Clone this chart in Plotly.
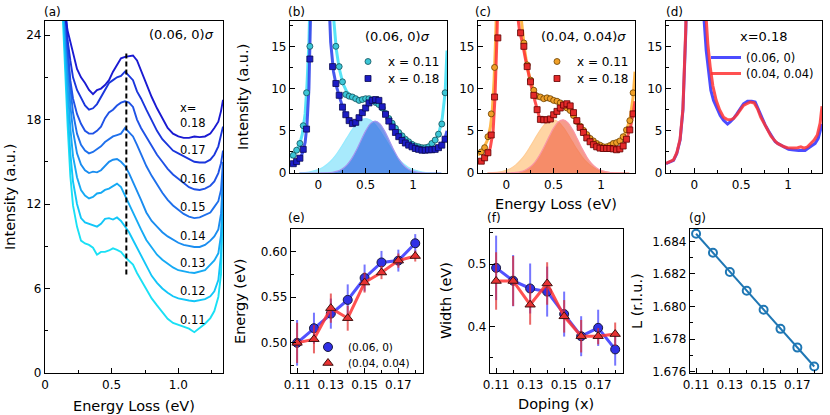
import plotly.graph_objects as go

W, H = 830, 415
FONT = "DejaVu Sans"

# ---------------- data ----------------
dopings = [0.11, 0.12, 0.13, 0.14, 0.15, 0.16, 0.17, 0.18]
dop_labels = ["0.11", "0.12", "0.13", "0.14", "0.15", "0.16", "0.17", "0.18"]

# (a) offset spectra at (0.06, 0) sigma
a_energy = [0.13, 0.15, 0.17, 0.19, 0.21, 0.24, 0.27, 0.30, 0.33, 0.36, 0.39, 0.42, 0.45,
            0.48, 0.51, 0.54, 0.57, 0.60, 0.63, 0.66, 0.69, 0.72, 0.76, 0.80, 0.84, 0.88,
            0.92, 0.96, 1.00, 1.04, 1.08, 1.12, 1.16, 1.20, 1.24, 1.27, 1.30, 1.32, 1.335]
a_I_011 = [26.0, 21.5, 17.5, 14.0, 11.9, 10.4, 9.4, 9.2, 9.1, 8.9, 8.4, 8.6, 8.6, 8.7, 8.85,
           8.75, 8.6, 8.25, 8.0, 7.7, 7.1, 6.6, 5.9, 5.3, 4.8, 4.3, 3.85, 3.55, 3.4, 3.3,
           3.15, 2.9, 3.2, 3.5, 3.9, 4.4, 5.4, 7.0, 13.0]
a_I_012 = [27.0, 22.5, 18.7, 15.6, 13.6, 12.0, 11.0, 10.7, 10.6, 10.5, 10.4, 10.6, 10.95, 11.0,
           10.9, 11.05, 10.8, 10.4, 10.0, 9.45, 8.9, 8.3, 7.55, 6.9, 6.4, 6.0, 5.7, 5.45, 5.3,
           5.2, 5.15, 5.1, 5.15, 5.25, 5.45, 5.8, 6.6, 8.4, 13.0]
a_I_013 = [28.0, 24.0, 20.3, 17.4, 15.4, 13.9, 13.0, 12.6, 12.4, 12.5, 12.75, 12.8, 13.0, 13.1,
           13.3, 13.45, 13.2, 12.6, 12.0, 11.4, 10.7, 10.2, 9.45, 8.9, 8.4, 8.05, 7.75, 7.5, 7.3,
           7.2, 7.15, 7.1, 7.2, 7.3, 7.7, 8.0, 8.5, 9.8, 13.5]
a_I_014 = [28.5, 25.0, 21.8, 19.0, 17.2, 15.6, 14.8, 14.4, 14.2, 14.3, 14.25, 14.4, 14.7, 15.0,
           15.15, 15.2, 15.0, 14.7, 14.2, 13.6, 12.9, 12.3, 11.4, 10.8, 10.4, 10.0, 9.7, 9.45,
           9.25, 9.1, 9.0, 8.95, 8.95, 9.1, 9.4, 9.7, 10.2, 11.3, 14.0]
a_I_015 = [29.0, 25.5, 22.8, 20.3, 18.5, 17.0, 16.2, 15.8, 15.6, 15.7, 15.9, 16.1, 16.4, 16.6,
           16.8, 16.9, 17.0, 17.4, 17.1, 16.8, 16.2, 15.5, 14.7, 14.0, 13.4, 12.8, 12.3, 11.9,
           11.6, 11.3, 11.1, 11.0, 11.05, 11.2, 11.4, 11.8, 12.2, 13.0, 15.0]
a_I_016 = [29.5, 26.0, 23.0, 20.8, 19.5, 18.4, 17.7, 17.2, 17.0, 17.0, 17.2, 17.5, 18.1, 18.5,
           18.7, 19.0, 19.2, 19.3, 19.2, 18.9, 18.0, 17.4, 16.8, 16.1, 15.5, 15.0, 14.5, 14.1,
           13.8, 13.5, 13.2, 13.05, 13.0, 13.1, 13.3, 13.6, 14.2, 14.9, 15.8]
a_I_017 = [30.0, 26.5, 23.6, 22.2, 21.0, 20.1, 19.5, 19.0, 18.7, 18.8, 19.1, 19.6, 20.1, 20.6,
           20.8, 21.0, 21.1, 21.4, 21.1, 20.8, 20.0, 19.5, 18.7, 17.9, 17.2, 16.6, 16.2, 15.8,
           15.6, 15.4, 15.2, 15.0, 14.95, 14.95, 15.15, 15.5, 16.1, 16.8, 17.5]
a_I_018 = [30.0, 25.4, 24.3, 23.5, 22.7, 21.6, 21.0, 20.6, 20.1, 19.8, 20.1, 20.2, 20.45, 20.8,
           21.4, 21.9, 22.35, 22.45, 22.5, 22.55, 22.2, 21.5, 20.45, 19.6, 18.8, 18.1, 17.4,
           17.0, 16.8, 16.7, 16.7, 16.8, 16.75, 16.8, 17.0, 17.4, 17.85, 18.6, 19.4]
a_peak_E = 0.61
a_peak_span = [7.0, 22.9]

# (b), (c) measured spectra
bc_energy = [-0.265, -0.23, -0.195, -0.16, -0.125, -0.09,
             0.15, 0.185, 0.22, 0.255, 0.29, 0.325, 0.36, 0.395, 0.43, 0.465, 0.50, 0.535,
             0.57, 0.605, 0.64, 0.675, 0.71, 0.745, 0.78, 0.815, 0.85, 0.885, 0.92, 0.955,
             0.99, 1.025, 1.06, 1.095, 1.13, 1.165, 1.20, 1.235, 1.27, 1.305, 1.34]
b_I_011 = [2.1, 2.7, 3.5, 5.6, 9.5, 15.0,
           18.6, 15.0, 12.6, 10.8, 9.3, 9.1, 9.0, 8.8, 8.6, 8.7, 8.8, 8.8, 8.6, 8.35, 8.1,
           7.7, 7.05, 6.45, 5.9, 5.3, 4.8, 4.4, 4.0, 3.7, 3.4, 3.2, 3.1, 3.0, 3.0, 3.1, 3.5,
           3.9, 4.6, 5.8, 9.5]
b_I_018 = [1.1, 1.35, 1.75, 2.8, 5.2, 13.5,
           12.6, 10.6, 9.2, 7.8, 6.9, 6.2, 5.85, 6.0, 6.55, 7.15, 7.7, 8.3, 8.6, 8.7, 8.6,
           7.85, 6.95, 6.15, 5.45, 4.8, 4.3, 3.85, 3.55, 3.3, 3.1, 2.9, 2.8, 2.7, 2.7, 2.75,
           2.75, 2.8, 3.0, 3.3, 4.0]
c_I_011 = [2.5, 3.0, 4.3, 7.0, 12.5, 19.0,
           18.5, 15.4, 12.8, 11.0, 9.8, 9.1, 9.0, 8.8, 8.9, 8.8, 8.6, 8.5, 8.3, 8.05, 7.7,
           7.4, 6.8, 6.1, 5.55, 5.05, 4.55, 4.1, 3.8, 3.5, 3.3, 3.1, 3.1, 3.25, 3.5, 3.6, 3.8,
           4.3, 5.1, 6.2, 9.5]
c_I_018 = [1.4, 1.8, 2.4, 4.5, 9.0, 16.0,
           16.6, 15.0, 12.6, 10.8, 9.2, 7.5, 6.35, 6.3, 6.3, 6.4, 6.9, 7.3, 7.7, 8.05, 8.2,
           7.95, 7.15, 6.2, 5.4, 4.8, 4.15, 3.7, 3.35, 3.1, 2.95, 2.9, 2.9, 2.9, 2.85, 2.75,
           2.85, 3.2, 4.0, 5.1, 7.0]

# (b) fits
b_fitE = [-0.30, -0.25, -0.20, -0.17, -0.14, -0.12, -0.10, -0.085, -0.07, 0.0, 0.10, 0.13,
          0.16, 0.19, 0.22, 0.26, 0.30, 0.35, 0.40, 0.45, 0.50, 0.55, 0.60, 0.65, 0.70, 0.75,
          0.80, 0.85, 0.90, 0.95, 1.00, 1.05, 1.10, 1.15, 1.20, 1.25, 1.28, 1.31, 1.34, 1.36]
b_fit_011 = [1.8, 2.4, 3.3, 4.6, 7.0, 10.5, 15.5, 21.0, 27.0, 60.0, 45.0, 26.0, 18.5, 14.6,
             12.4, 10.6, 9.6, 9.1, 8.85, 8.75, 8.8, 8.75, 8.45, 7.9, 7.2, 6.4, 5.6, 4.85, 4.25,
             3.75, 3.4, 3.15, 3.0, 3.05, 3.35, 4.1, 5.0, 6.5, 9.5, 14.5]
b_fit_018 = [0.95, 1.2, 1.65, 2.3, 3.6, 5.8, 10.0, 16.0, 24.0, 60.0, 24.0, 15.5, 12.0, 10.3,
             9.1, 7.7, 6.7, 5.95, 6.05, 6.85, 7.75, 8.4, 8.7, 8.35, 7.2, 6.05, 5.1, 4.3, 3.7,
             3.3, 3.0, 2.82, 2.72, 2.72, 2.78, 2.95, 3.15, 3.5, 4.2, 5.0]
# (c) fits
c_fitE_011 = [-0.30, -0.25, -0.20, -0.17, -0.15, -0.13, -0.115, -0.10, -0.085, 0.0, 0.10, 0.13,
              0.16, 0.19, 0.22, 0.26, 0.30, 0.35, 0.40, 0.45, 0.50, 0.55, 0.60, 0.65, 0.70,
              0.75, 0.80, 0.85, 0.90, 0.95, 1.00, 1.05, 1.10, 1.15, 1.20, 1.25, 1.28, 1.31,
              1.34, 1.36]
c_fit_011 = [2.1, 2.7, 3.9, 5.4, 7.2, 11.0, 15.5, 21.0, 27.0, 60.0, 40.0, 24.0, 18.0, 14.8,
             12.6, 10.7, 9.5, 9.0, 8.85, 8.8, 8.65, 8.4, 8.05, 7.6, 6.95, 6.1, 5.3, 4.6, 4.0,
             3.55, 3.3, 3.15, 3.2, 3.45, 3.85, 4.6, 5.4, 6.6, 9.0, 12.0]
c_fitE_018 = [-0.30, -0.25, -0.20, -0.17, -0.14, -0.12, -0.10, -0.085, -0.07, 0.0, 0.10, 0.12,
              0.14, 0.17, 0.20, 0.23, 0.26, 0.29, 0.32, 0.35, 0.38, 0.42, 0.46, 0.50, 0.55,
              0.60, 0.64, 0.67, 0.70, 0.75, 0.80, 0.85, 0.90, 0.95, 1.00, 1.05, 1.10, 1.15,
              1.20, 1.25, 1.28, 1.31, 1.34, 1.36]
c_fit_018 = [1.2, 1.5, 2.1, 3.0, 5.0, 9.0, 16.0, 22.0, 28.0, 60.0, 26.0, 18.5, 16.8, 15.4,
             13.6, 11.9, 10.4, 9.0, 7.6, 6.55, 6.3, 6.3, 6.4, 6.85, 7.45, 8.0, 8.2, 8.0, 7.4,
             6.05, 4.95, 4.15, 3.55, 3.15, 2.95, 2.88, 2.85, 2.8, 2.85, 3.5, 4.3, 5.3, 7.0, 8.5]

# Gaussian components (b) and (c)
g_E = [-0.2, -0.1, 0.0, 0.05, 0.1, 0.15, 0.2, 0.25, 0.3, 0.35, 0.4, 0.45, 0.5, 0.55, 0.6,
       0.65, 0.7, 0.75, 0.8, 0.85, 0.9, 0.95, 1.0, 1.1, 1.2, 1.3]
b_g_011 = [0.03, 0.12, 0.40, 0.68, 1.09, 1.65, 2.37, 3.22, 4.13, 5.02, 5.77, 6.27, 6.45, 6.27,
           5.77, 5.02, 4.13, 3.22, 2.37, 1.65, 1.09, 0.68, 0.40, 0.12, 0.03, 0.01]
b_g_018 = [0.0, 0.0, 0.0, 0.01, 0.03, 0.09, 0.22, 0.48, 0.94, 1.67, 2.67, 3.85, 4.99, 5.84,
           6.15, 5.84, 4.99, 3.85, 2.67, 1.67, 0.94, 0.48, 0.22, 0.03, 0.0, 0.0]
c_g_011 = [0.02, 0.08, 0.32, 0.57, 0.96, 1.51, 2.22, 3.09, 4.03, 4.94, 5.70, 6.18, 6.29, 6.03,
           5.42, 4.59, 3.65, 2.73, 1.92, 1.27, 0.79, 0.46, 0.25, 0.06, 0.01, 0.0]
c_g_018 = [0.0, 0.0, 0.01, 0.03, 0.07, 0.16, 0.36, 0.71, 1.27, 2.09, 3.13, 4.28, 5.34, 6.07,
           6.30, 5.96, 5.14, 4.05, 2.90, 1.90, 1.14, 0.62, 0.31, 0.06, 0.01, 0.0]

# (d) x = 0.18 at the two momenta
d_E_06 = [-0.30, -0.25, -0.22, -0.185, -0.15, -0.12, -0.10, -0.09, -0.08, 0.0, 0.09, 0.106,
          0.128, 0.152, 0.177, 0.206, 0.241, 0.277, 0.312, 0.34, 0.355, 0.383, 0.418, 0.454,
          0.49, 0.525, 0.567, 0.613, 0.649, 0.685, 0.72, 0.755, 0.791, 0.826, 0.862, 0.897,
          0.933, 0.968, 1.004, 1.04, 1.075, 1.11, 1.145, 1.18, 1.216, 1.25, 1.287, 1.32,
          1.347, 1.36]
d_I_06 = [1.1, 1.3, 1.5, 2.3, 3.9, 7.4, 12.5, 16.5, 21.0, 60.0, 22.0, 18.0, 14.5, 11.8, 9.8,
          8.6, 7.6, 6.8, 6.25, 6.0, 5.8, 6.05, 6.45, 7.0, 7.6, 8.2, 8.5, 8.5, 8.4, 7.4, 6.45,
          5.7, 4.97, 4.3, 3.7, 3.45, 3.2, 2.95, 2.8, 2.75, 2.67, 2.65, 2.65, 2.67, 2.95, 3.2,
          3.5, 4.1, 5.1, 5.8]
d_E_04 = [-0.30, -0.25, -0.22, -0.185, -0.15, -0.12, -0.10, -0.09, -0.08, 0.0, 0.10, 0.128,
          0.145, 0.17, 0.199, 0.234, 0.27, 0.312, 0.348, 0.383, 0.418, 0.454, 0.49, 0.525,
          0.56, 0.596, 0.638, 0.674, 0.709, 0.745, 0.78, 0.816, 0.851, 0.887, 0.922, 0.957,
          0.993, 1.03, 1.06, 1.10, 1.135, 1.17, 1.206, 1.24, 1.276, 1.31, 1.34, 1.36]
d_I_04 = [1.15, 1.35, 1.55, 2.4, 4.0, 7.6, 12.8, 17.0, 21.5, 60.0, 23.0, 18.0, 15.3, 12.6,
          10.3, 8.6, 7.5, 6.6, 6.35, 6.3, 6.45, 6.9, 7.5, 8.0, 8.2, 8.4, 8.3, 7.6, 6.6, 5.9,
          5.1, 4.4, 3.9, 3.5, 3.3, 3.1, 3.0, 2.95, 2.95, 3.0, 3.1, 2.95, 3.1, 3.5, 3.9, 4.5,
          5.9, 7.9]

# (e) energy, (f) width, (g) L
e_E_06 = [0.500, 0.516, 0.532, 0.547, 0.571, 0.588, 0.590, 0.609]
e_E_06_err = [0.025, 0.017, 0.0165, 0.017, 0.0147, 0.0126, 0.012, 0.010]
e_E_04 = [0.500, 0.504, 0.538, 0.527, 0.566, 0.577, 0.590, 0.595]
e_E_04_err = [0.022, 0.0155, 0.016, 0.0137, 0.011, 0.0073, 0.0078, 0.006]
f_W_06 = [0.494, 0.4735, 0.461, 0.456, 0.420, 0.3846, 0.398, 0.3635]
f_W_06_err = [0.0516, 0.041, 0.040, 0.040, 0.036, 0.032, 0.029, 0.026]
f_W_04 = [0.473, 0.473, 0.435, 0.469, 0.4164, 0.3846, 0.3846, 0.388]
f_W_04_err = [0.046, 0.040, 0.032, 0.034, 0.026, 0.026, 0.013, 0.0185]
g_L = [1.68447, 1.68330, 1.68212, 1.68097, 1.67980, 1.67863, 1.67748, 1.67632]

# ---------------- styling ----------------
a_curves = [a_I_011, a_I_012, a_I_013, a_I_014, a_I_015, a_I_016, a_I_017, a_I_018]
a_colors = ['#1ae0f5', '#12c6f8', '#16aaf4', '#1a8df0', '#1e70ec', '#1f52e6', '#1a36dc', '#1a1ad2']
a_label_py = [320, 291, 263, 236, 207, 179, 150, 123]

CY_M, CY_E, CY_L = '#3cc6d6', '#12505a', 'rgba(70,225,245,0.9)'
BL_M, BL_E, BL_L = '#1c1cc4', '#0a0a50', 'rgba(45,65,235,0.88)'
OR_M, OR_E, OR_L = '#f0a028', '#6a4000', 'rgba(255,175,55,0.9)'
RD_M, RD_E, RD_L = '#e42a2a', '#600000', 'rgba(255,55,55,0.88)'
E_BLUE_L, E_RED_L = 'rgba(50,50,255,0.85)', 'rgba(255,50,50,0.85)'
E_BLUE_ERR, E_RED_ERR = 'rgba(60,60,255,0.7)', 'rgba(225,40,40,0.7)'

fig = go.Figure()


def fx(px):
    return px / W


def fy(py):
    return 1 - py / H


BOX = {
    1: (45, 223, 21, 373),
    2: (290, 447, 21, 173),
    3: (478, 635, 21, 173),
    4: (666, 822, 21, 173),
    5: (291, 423, 229, 373),
    6: (490, 623, 229, 373),
    7: (690, 822, 229, 373),
}


def ax(n):
    return ('x' if n == 1 else f'x{n}'), ('y' if n == 1 else f'y{n}')


# (a)
for I, col in zip(a_curves, a_colors):
    fig.add_trace(go.Scatter(x=a_energy, y=I, mode='lines', line=dict(color=col, width=1.9),
                             xaxis='x', yaxis='y', showlegend=False))
fig.add_trace(go.Scatter(x=[a_peak_E, a_peak_E], y=a_peak_span, mode='lines',
                         line=dict(color='black', width=2, dash='5px,3px'),
                         xaxis='x', yaxis='y', showlegend=False))

# (b)
xa, ya = ax(2)
fig.add_trace(go.Scatter(x=g_E, y=b_g_011, mode='lines', line=dict(color='rgba(150,235,255,1)', width=1.2, shape='spline'),
                         fill='tozeroy', fillcolor='rgba(110,220,250,0.6)', xaxis=xa, yaxis=ya, showlegend=False))
fig.add_trace(go.Scatter(x=g_E, y=b_g_018, mode='lines', line=dict(color='rgba(165,150,240,1)', width=1.2, shape='spline'),
                         fill='tozeroy', fillcolor='rgba(50,105,225,0.68)', xaxis=xa, yaxis=ya, showlegend=False))
fig.add_trace(go.Scatter(x=b_fitE, y=b_fit_011, mode='lines', line=dict(color=CY_L, width=3),
                         xaxis=xa, yaxis=ya, showlegend=False))
fig.add_trace(go.Scatter(x=b_fitE, y=b_fit_018, mode='lines', line=dict(color=BL_L, width=3),
                         xaxis=xa, yaxis=ya, showlegend=False))
fig.add_trace(go.Scatter(x=bc_energy, y=b_I_011, mode='markers', name='x = 0.11',
                         marker=dict(symbol='circle', size=6, color=CY_M, line=dict(color=CY_E, width=0.8)),
                         xaxis=xa, yaxis=ya, legend='legend'))
fig.add_trace(go.Scatter(x=bc_energy, y=b_I_018, mode='markers', name='x = 0.18',
                         marker=dict(symbol='square', size=6, color=BL_M, line=dict(color=BL_E, width=0.8)),
                         xaxis=xa, yaxis=ya, legend='legend2'))

# (c)
xa, ya = ax(3)
fig.add_trace(go.Scatter(x=g_E, y=c_g_011, mode='lines', line=dict(color='rgba(255,205,150,1)', width=1.2, shape='spline'),
                         fill='tozeroy', fillcolor='rgba(255,190,115,0.65)', xaxis=xa, yaxis=ya, showlegend=False))
fig.add_trace(go.Scatter(x=g_E, y=c_g_018, mode='lines', line=dict(color='rgba(250,150,165,1)', width=1.2, shape='spline'),
                         fill='tozeroy', fillcolor='rgba(240,95,70,0.62)', xaxis=xa, yaxis=ya, showlegend=False))
fig.add_trace(go.Scatter(x=c_fitE_011, y=c_fit_011, mode='lines', line=dict(color=OR_L, width=3),
                         xaxis=xa, yaxis=ya, showlegend=False))
fig.add_trace(go.Scatter(x=c_fitE_018, y=c_fit_018, mode='lines', line=dict(color=RD_L, width=3),
                         xaxis=xa, yaxis=ya, showlegend=False))
fig.add_trace(go.Scatter(x=bc_energy, y=c_I_011, mode='markers', name='x = 0.11',
                         marker=dict(symbol='circle', size=6, color=OR_M, line=dict(color=OR_E, width=0.8)),
                         xaxis=xa, yaxis=ya, legend='legend3'))
fig.add_trace(go.Scatter(x=bc_energy, y=c_I_018, mode='markers', name='x = 0.18',
                         marker=dict(symbol='square', size=6, color=RD_M, line=dict(color=RD_E, width=0.8)),
                         xaxis=xa, yaxis=ya, legend='legend4'))

# (d)
xa, ya = ax(4)
fig.add_trace(go.Scatter(x=d_E_06, y=d_I_06, mode='lines', name='(0.06, 0)',
                         line=dict(color='rgba(45,45,255,0.85)', width=3),
                         xaxis=xa, yaxis=ya, legend='legend5'))
fig.add_trace(go.Scatter(x=d_E_04, y=d_I_04, mode='lines', name='(0.04, 0.04)',
                         line=dict(color='rgba(255,50,50,0.85)', width=3),
                         xaxis=xa, yaxis=ya, legend='legend6'))


# (e), (f): line + markers with error bars
def dop_series(n, y, err, lcol, ecol, mcol, medge, symbol, name=None, legend=None):
    xa_, ya_ = ax(n)
    fig.add_trace(go.Scatter(x=dopings, y=y, mode='lines', line=dict(color=lcol, width=3),
                             xaxis=xa_, yaxis=ya_, showlegend=False))
    kw = dict(showlegend=False) if legend is None else dict(name=name, legend=legend)
    fig.add_trace(go.Scatter(x=dopings, y=y, mode='markers',
                             marker=dict(symbol=symbol, size=9, color=mcol, line=dict(color=medge, width=1)),
                             error_y=dict(type='data', array=err, color=ecol, thickness=2, width=0),
                             xaxis=xa_, yaxis=ya_, **kw))


dop_series(5, e_E_06, e_E_06_err, E_BLUE_L, E_BLUE_ERR, '#3030e6', '#1a1a40', 'circle', '(0.06, 0)', 'legend7')
dop_series(5, e_E_04, e_E_04_err, E_RED_L, E_RED_ERR, '#e83232', '#401010', 'triangle-up', '(0.04, 0.04)', 'legend8')
dop_series(6, f_W_06, f_W_06_err, E_BLUE_L, E_BLUE_ERR, '#3030e6', '#1a1a40', 'circle')
dop_series(6, f_W_04, f_W_04_err, E_RED_L, E_RED_ERR, '#e83232', '#401010', 'triangle-up')

# (g)
xa, ya = ax(7)
fig.add_trace(go.Scatter(x=dopings, y=g_L, mode='lines+markers',
                         line=dict(color='#1f77b4', width=2),
                         marker=dict(symbol='circle-open', size=8, color='#1f77b4', line=dict(width=2)),
                         xaxis=xa, yaxis=ya, showlegend=False))

# ---------------- axes ----------------
TICKFONT = dict(family=FONT, size=12, color='black')


def axis(n, which, rng, tickvals, ticktext, minor):
    x0, x1, y0, y1 = BOX[n]
    d = dict(range=rng, tickmode='array', tickvals=tickvals, ticktext=ticktext,
             showline=True, linecolor='black', linewidth=1.2, mirror=True,
             ticks='inside', ticklen=4.5, tickwidth=1.1, tickcolor='black',
             showgrid=False, zeroline=False, tickfont=TICKFONT, automargin=False,
             minor=dict(tickmode='array', tickvals=minor, ticks='inside', ticklen=2.5,
                        tickwidth=1, tickcolor='black', showgrid=False))
    xs, ys = ax(n)
    if which == 'x':
        d.update(domain=[fx(x0), fx(x1)], anchor=ys)
    else:
        d.update(domain=[fy(y1), fy(y0)], anchor=xs)
    return d


layout_axes = {}
spec_x = ([-0.3, 1.36], [0, 0.5, 1], ['0', '0.5', '1'], [-0.25, 0.25, 0.75, 1.25])
spec_y = ([0, 18], [0, 5, 10, 15], ['0', '5', '10', '15'], [2.5, 7.5, 12.5, 17.5])
dop_x = ([0.1064, 0.1846], [0.11, 0.13, 0.15, 0.17], ['0.11', '0.13', '0.15', '0.17'], [0.12, 0.14, 0.16, 0.18])

layout_axes['xaxis'] = axis(1, 'x', [0, 1.335], [0, 0.5, 1.0], ['0', '0.5', '1.0'], [0.25, 0.75, 1.25])
layout_axes['yaxis'] = axis(1, 'y', [0, 25], [0, 6, 12, 18, 24], ['0', '6', '12', '18', '24'], [3, 9, 15, 21])
for n in (2, 3, 4):
    layout_axes[f'xaxis{n}'] = axis(n, 'x', *spec_x)
    layout_axes[f'yaxis{n}'] = axis(n, 'y', *spec_y)
for n in (5, 6, 7):
    layout_axes[f'xaxis{n}'] = axis(n, 'x', *dop_x)
layout_axes['yaxis5'] = axis(5, 'y', [0.467, 0.6246], [0.50, 0.55, 0.60], ['0.50', '0.55', '0.60'],
                             [0.475, 0.525, 0.575])
layout_axes['yaxis6'] = axis(6, 'y', [0.3257, 0.5562], [0.4, 0.5], ['0.4', '0.5'], [0.35, 0.45, 0.55])
layout_axes['yaxis7'] = axis(7, 'y', [1.67592, 1.68476],
                             [1.676, 1.678, 1.680, 1.682, 1.684],
                             ['1.676', '1.678', '1.680', '1.682', '1.684'],
                             [1.677, 1.679, 1.681, 1.683])

# ---------------- annotations ----------------
ann = []


def text(px, py, s, size=12, xanchor='center', yanchor='middle', angle=0):
    ann.append(dict(x=fx(px), y=fy(py), xref='paper', yref='paper', text=s, showarrow=False,
                    xanchor=xanchor, yanchor=yanchor, textangle=angle,
                    font=dict(family=FONT, size=size, color='black')))


# panel labels
for lab, px, py in [('(a)', 42, 12), ('(b)', 286, 12), ('(c)', 473, 12), ('(d)', 664, 12),
                    ('(e)', 286, 218), ('(f)', 485, 218), ('(g)', 687, 218)]:
    text(px, py, lab, size=12, xanchor='left')

# axis titles
TS = 14.5
text(10, 197, 'Intensity (a.u.)', TS, angle=-90)
text(134, 406, 'Energy Loss (eV)', TS)
text(243, 97, 'Intensity (a.u.)', TS, angle=-90)
text(556, 204, 'Energy Loss (eV)', TS)
text(240, 301, 'Energy (eV)', TS, angle=-90)
text(446, 301, 'Width (eV)', TS, angle=-90)
text(556, 404, 'Doping (x)', TS)
text(637, 301, 'L (r.l.u.)', TS, angle=-90)

# in-panel texts
text(181, 35, '(0.06, 0)<i>σ</i>', 13)
text(397, 36, '(0.06, 0)<i>σ</i>', 13)
text(583, 36, '(0.04, 0.04)<i>σ</i>', 13)
text(764, 36, 'x=0.18', 13)
text(178, 108, 'x=', 11.5, xanchor='left')
for lab, py in zip(dop_labels, a_label_py):
    text(178, py, lab, 11.5, xanchor='left')

LEG = dict(bgcolor='rgba(0,0,0,0)', borderwidth=0, xanchor='left', yanchor='top',
           itemwidth=30, tracegroupgap=0)
F12 = dict(family=FONT, size=12, color='black')
F11 = dict(family=FONT, size=11.5, color='black')
F10 = dict(family=FONT, size=10.5, color='black')

fig.update_layout(
    width=W, height=H,
    margin=dict(l=0, r=0, t=0, b=0, pad=0, autoexpand=False),
    paper_bgcolor='white', plot_bgcolor='white',
    font=dict(family=FONT, size=12, color='black'),
    annotations=ann,
    legend=dict(LEG, x=fx(348), y=fy(47), font=F12),
    legend2=dict(LEG, x=fx(348), y=fy(64), font=F12),
    legend3=dict(LEG, x=fx(537), y=fy(47), font=F12),
    legend4=dict(LEG, x=fx(537), y=fy(64), font=F12),
    legend5=dict(LEG, x=fx(706), y=fy(43), font=F11),
    legend6=dict(LEG, x=fx(706), y=fy(59), font=F11),
    legend7=dict(LEG, x=fx(308), y=fy(332.5), font=F10),
    legend8=dict(LEG, x=fx(308), y=fy(348.5), font=F10),
    **layout_axes,
)

fig.write_html("out.html", config={'displayModeBar': False},
               post_script="document.body.style.margin='0px';")
